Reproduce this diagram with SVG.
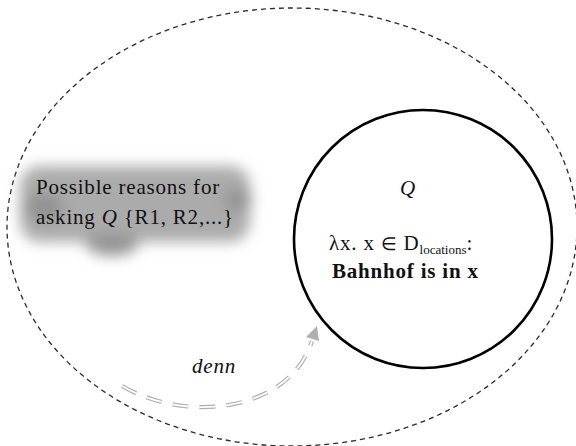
<svg xmlns="http://www.w3.org/2000/svg" width="576" height="446" viewBox="0 0 576 446">
<style>
  text { font-family: "Liberation Serif", "Times New Roman", serif; font-size: 21px; fill: #111; letter-spacing: 0.8px; }
  .it { font-style: italic; }
  .b { font-weight: bold; }
  .outer { fill: none; stroke: #2a2a2a; stroke-width: 1.3; stroke-dasharray: 5 4; }
  .circ { fill: none; stroke: #000; stroke-width: 2.6; }
  .arrowOut { fill: none; stroke: #b0b0b0; stroke-width: 4.2; stroke-dasharray: 16 11; }
  .arrowIn { fill: none; stroke: #fff; stroke-width: 1.8; stroke-dasharray: 16 11; }
</style>
<defs>
  <filter id="blur" x="-30%" y="-60%" width="160%" height="220%">
    <feGaussianBlur stdDeviation="7"/>
  </filter>
</defs>
<rect width="576" height="446" fill="#fff"/>
<g id="universe">
  <ellipse class="outer" cx="292" cy="227" rx="285" ry="219"/>
</g>
<g id="reasons">
  <g filter="url(#blur)">
    <rect x="20" y="166" width="230" height="76" rx="20" fill="#ababab"/>
    <ellipse cx="44" cy="207" rx="20" ry="14" fill="#939393"/>
    <ellipse cx="238" cy="200" rx="14" ry="12" fill="#959595"/>
    <ellipse cx="112" cy="244" rx="26" ry="12" fill="#969696"/>
  </g>
  <text x="36" y="194">Possible reasons for</text>
  <text x="36" y="224">asking <tspan class="it">Q</tspan> {R1, R2,...}</text>
</g>
<g id="question">
  <circle class="circ" cx="423" cy="239" r="129"/>
  <text class="it" x="408" y="195" text-anchor="middle">Q</text>
  <text x="329" y="250">λx. x <tspan font-size="18">∈</tspan> D<tspan font-size="13" dy="4" letter-spacing="0">locations</tspan><tspan dy="-4">:</tspan></text>
  <text class="b" x="332" y="278">Bahnhof is in x</text>
</g>
<g id="connectors">
  <path class="arrowOut" d="M122,386 C190,425 290,410 312,341"/>
  <path class="arrowIn" d="M122,386 C190,425 290,410 312,341"/>
  <polygon points="317,326 319,341 306,337" fill="#b0b0b0"/>
  <text class="it" x="192" y="373">denn</text>
</g>
</svg>
